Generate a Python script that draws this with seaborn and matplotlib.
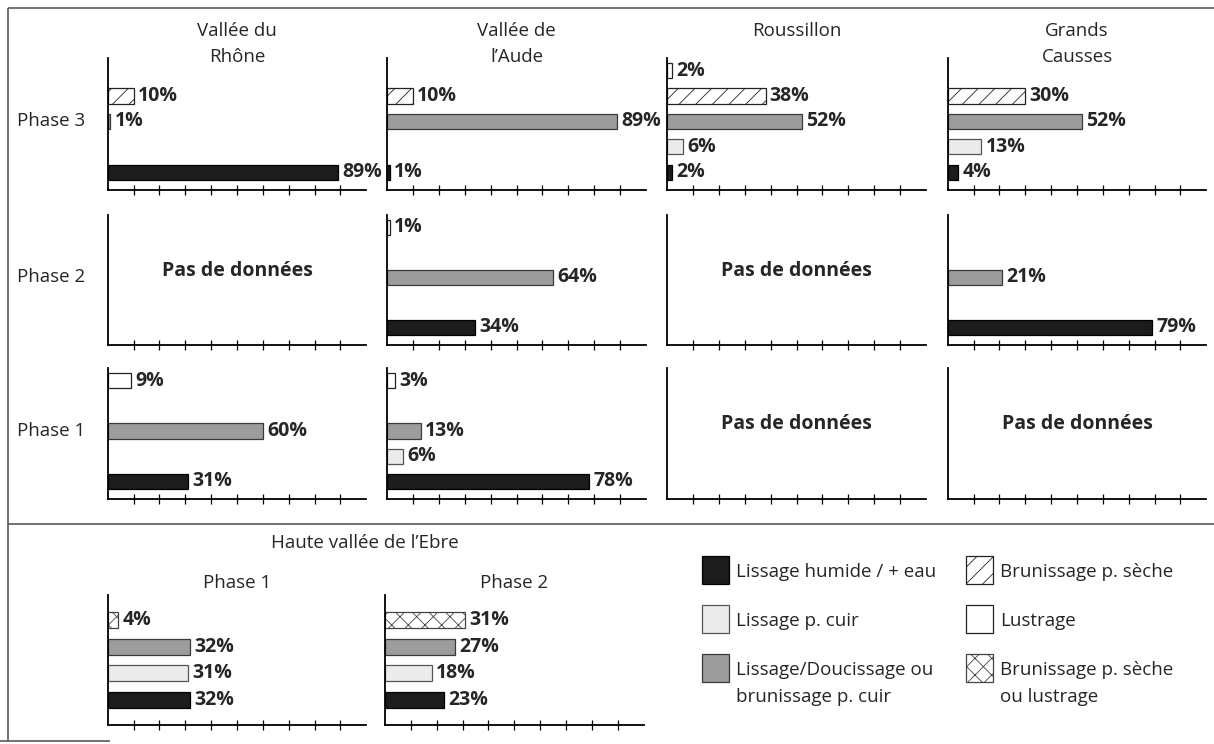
import numpy as np
import pandas as pd
import matplotlib
matplotlib.use("Agg")
import matplotlib.pyplot as plt
import matplotlib.transforms as mtransforms
from matplotlib.patches import Rectangle
import seaborn as sns

# ---------------- data ----------------
techniques = ["Lissage humide / + eau", "Lissage p. cuir",
              "Lissage/Doucissage ou brunissage p. cuir",
              "Brunissage p. sèche", "Lustrage",
              "Brunissage p. sèche ou lustrage"]
top_cats = techniques[:5]          # humide, cuir, doucissage, brunissage, lustrage
ebre_cats = [techniques[0], techniques[1], techniques[2], techniques[5]]

regions = ["Vallée du\nRhône", "Vallée de\nl’Aude", "Roussillon", "Grands\nCausses"]
top_phases = ["Phase 3", "Phase 2", "Phase 1"]
no_data = "Pas de données"

# values follow top_cats order (NaN = absent, None = no data)
rhone_p3 = [89, np.nan, 1, 10, np.nan]
rhone_p2 = None
rhone_p1 = [31, np.nan, 60, np.nan, 9]
aude_p3 = [1, np.nan, 89, 10, np.nan]
aude_p2 = [34, np.nan, 64, np.nan, 1]
aude_p1 = [78, 6, 13, np.nan, 3]
roussillon_p3 = [2, 6, 52, 38, 2]
roussillon_p2 = None
roussillon_p1 = None
causses_p3 = [4, 13, 52, 30, np.nan]
causses_p2 = [79, np.nan, 21, np.nan, np.nan]
causses_p1 = None

ebre_title = "Haute vallée de l’Ebre"
ebre_phases = ["Phase 1", "Phase 2"]
# values follow ebre_cats order
ebre_p1 = [32, 31, 32, 4]
ebre_p2 = [23, 18, 27, 31]

# ---------------- style ----------------
STYLE = {
    techniques[0]: dict(face="#1c1c1c", edge="#000000", hatch=None, hc=None),
    techniques[1]: dict(face="#ebebeb", edge="#555555", hatch=None, hc=None),
    techniques[2]: dict(face="#9c9c9c", edge="#3a3a3a", hatch=None, hc=None),
    techniques[3]: dict(face="#ffffff", edge="#222222", hatch="//", hc="#555555"),
    techniques[4]: dict(face="#ffffff", edge="#222222", hatch=None, hc=None),
    techniques[5]: dict(face="#ffffff", edge="#444444", hatch="xx", hc="#8a8a8a"),
}

sns.set_theme(style="white")
plt.rcParams["font.family"] = ["Open Sans", "DejaVu Sans"]
plt.rcParams["hatch.linewidth"] = 0.6

W, H = 1214, 744
fig = plt.figure(figsize=(W / 100, H / 100), dpi=100)
fig.patch.set_facecolor("white")

NORMAL = 13.5
BOLD = 14


def apply_style(p, st):
    p.set_facecolor(st["face"])
    p.set_edgecolor(st["edge"])
    p.set_linewidth(0.9)
    if st["hatch"]:
        p.set_hatch(st["hatch"])
        if st["hc"] and hasattr(p, "set_hatchcolor"):
            try:
                p.set_hatchcolor(st["hc"])
            except Exception:
                pass


def add_ax(left, top, width, bottom):
    return fig.add_axes([left / W, 1 - bottom / H, width / W, (bottom - top) / H])


def style_axes(ax, ylim):
    ax.set_xlim(0, 100)
    ax.set_ylim(*ylim)
    ax.set_xticks(range(10, 100, 10))
    ax.set_xticklabels([])
    ax.set_yticks([])
    ax.set_xlabel("")
    ax.set_ylabel("")
    ax.tick_params(axis="x", bottom=True, direction="inout", length=6.5,
                   width=0.9, color="black")
    for s in ["top", "right"]:
        ax.spines[s].set_visible(False)
    for s in ["left", "bottom"]:
        ax.spines[s].set_visible(True)
        ax.spines[s].set_color("black")
        ax.spines[s].set_linewidth(1.3)
    ax.set_facecolor("none")


def draw_panel(ax, values, cats, ylim):
    order = list(reversed(cats))  # top to bottom
    if values is not None:
        df = pd.DataFrame({"technique": cats, "pct": values}).dropna()
        sns.barplot(data=df, x="pct", y="technique", order=order, orient="h",
                    ax=ax, width=0.6, color="white", saturation=1,
                    errorbar=None)
        for p in ax.patches:
            idx = int(round(p.get_y() + p.get_height() / 2))
            apply_style(p, STYLE[order[idx]])
        for c in ax.containers:
            ax.bar_label(c, fmt="{:g}%", padding=3, fontsize=BOLD,
                         fontweight="bold", clip_on=False)
    else:
        ax.text(0.5, 0.57, no_data, transform=ax.transAxes, ha="center",
                va="center", fontsize=BOLD, fontweight="bold")
    style_axes(ax, ylim)


# ---------------- top grid ----------------
col_left = [107.7, 387.3, 667.3, 947.8]
col_w = 258.5
row_span = [(58, 190), (215, 345), (368, 499)]
grid = [
    [rhone_p3, aude_p3, roussillon_p3, causses_p3],
    [rhone_p2, aude_p2, roussillon_p2, causses_p2],
    [rhone_p1, aude_p1, roussillon_p1, causses_p1],
]
TOP_YLIM = (4.7, -0.5)

for r, (top, bot) in enumerate(row_span):
    for c, left in enumerate(col_left):
        ax = add_ax(left, top, col_w, bot)
        draw_panel(ax, grid[r][c], top_cats, TOP_YLIM)
        if c == 0:
            tr = mtransforms.blended_transform_factory(fig.transFigure, ax.transData)
            ax.text(17 / W, 2, top_phases[r], transform=tr, ha="left",
                    va="center", fontsize=NORMAL)

# column titles
for c, left in enumerate(col_left):
    cx = (left + col_w / 2) / W
    for i, line in enumerate(regions[c].split("\n")):
        fig.text(cx, 1 - (36 + 26 * i) / H, line, ha="center",
                 va="baseline", fontsize=NORMAL)

# ---------------- bottom (Ebre) ----------------
ebre_left = [107.7, 385.0]
ebre_vals = [ebre_p1, ebre_p2]
BOT_YLIM = (3.94, -0.94)
for i, left in enumerate(ebre_left):
    ax = add_ax(left, 595, col_w, 725)
    draw_panel(ax, ebre_vals[i], ebre_cats, BOT_YLIM)
    fig.text((left + col_w / 2) / W, 1 - 588 / H, ebre_phases[i],
             ha="center", va="baseline", fontsize=NORMAL)
fig.text(365 / W, 1 - 548 / H, ebre_title, ha="center", va="baseline",
         fontsize=NORMAL)

# ---------------- frame + legend (pixel overlay) ----------------
ov = fig.add_axes([0, 0, 1, 1])
ov.set_xlim(0, W)
ov.set_ylim(H, 0)
ov.axis("off")
ov.patch.set_alpha(0)
frame_kw = dict(color="#5a5a5a", lw=1.2, solid_capstyle="butt")
ov.plot([8, W], [8, 8], **frame_kw)
ov.plot([8, 8], [8, 741], **frame_kw)
ov.plot([8, W], [524, 524], **frame_kw)
ov.plot([0, 110], [741, 741], **frame_kw)

legend_cols = [
    (701.7, 736, [techniques[0], techniques[1], techniques[2]]),
    (965.7, 1000, [techniques[3], techniques[4], techniques[5]]),
]
legend_lines = {
    techniques[2]: ["Lissage/Doucissage ou", "brunissage p. cuir"],
    techniques[5]: ["Brunissage p. sèche", "ou lustrage"],
}
row_tops = [556, 605, 654]
for px, tx, items in legend_cols:
    for k, name in enumerate(items):
        st = STYLE[name]
        y0 = row_tops[k]
        rect = Rectangle((px, y0), 27.6, 28)
        apply_style(rect, st)
        ov.add_patch(rect)
        lines = legend_lines.get(name, [name])
        for j, line in enumerate(lines):
            ov.text(tx, y0 + 21 + 27.5 * j, line, ha="left", va="baseline",
                    fontsize=NORMAL)

fig.savefig("out.png", dpi=100, facecolor="white")
